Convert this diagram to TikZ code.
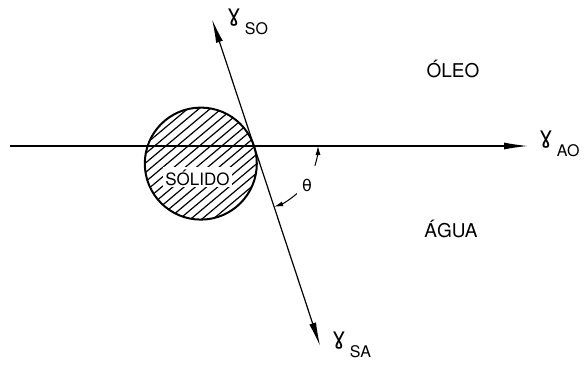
\documentclass[tikz,border=0pt]{standalone}
\usepackage{fontspec}
\setmainfont{TeX Gyre Heros}
\newfontfamily\greekfont{DejaVu Sans}
\usetikzlibrary{arrows.meta}
\tikzset{
  force/.style={line width=1.2pt, -{Latex[length=24pt,width=7pt]}},
  phase/.style={font=\fontsize{19}{19}\selectfont, anchor=base},
  tenslabel/.style={anchor=base west, inner sep=0pt, font=\fontsize{16}{16}\selectfont},
  angmark/.style={line width=1pt, -{Latex[length=9pt,width=5pt]}}
}
\newcommand{\tens}[1]{{\greekfont\fontsize{23}{23}\selectfont ɣ}\hspace{4pt}\raisebox{-13pt}{#1}}
\begin{document}
\begin{tikzpicture}[x=1pt,y=1pt]
\useasboundingbox (0,0) rectangle (584,368);
\coordinate (contact) at (254,222);
\coordinate (west) at (10,222);
\coordinate (east) at (528,222);
\coordinate (up) at (211.9,349);
\coordinate (down) at (320.2,21.7);
\coordinate (centre) at (200.8,204.4);
% solid with hatching
\begin{scope}
  \clip (centre) circle[radius=56];
  \begin{scope}[shift={(centre)}, rotate=40]
    \foreach \k in {-8,...,8}
      \draw[line width=1.2pt] (-60,\k*7.2) -- (60,\k*7.2);
  \end{scope}
\end{scope}
\node[phase, fill=white, inner sep=2pt, font=\fontsize{17}{17}\selectfont] (solid) at (197.5,183) {SÓLIDO};
\draw[line width=2pt] (centre) circle[radius=56];
% forces
\draw[force] (west) -- (east);
\draw[force] (contact) -- (up);
\draw[force] (contact) -- (down);
\node[tenslabel] (gao) at (539,225) {\tens{AO}};
\node[tenslabel] (gso) at (227,347) {\tens{SO}};
\node[tenslabel] (gsa) at (332,24) {\tens{SA}};
% phases
\node[phase] (oil) at (453,291) {ÓLEO};
\node[phase] (water) at (451,131) {ÁGUA};
% contact angle
\node[font=\greekfont\fontsize{16}{16}\selectfont] (theta) at (307,183) {θ};
\draw[angmark] ([shift={(-18:64)}]contact) arc[start angle=-18, end angle=0, radius=64];
\draw[angmark] ([shift={(-48:64)}]contact) arc[start angle=-48, end angle=-71.7, radius=64];
\end{tikzpicture}
\end{document}
